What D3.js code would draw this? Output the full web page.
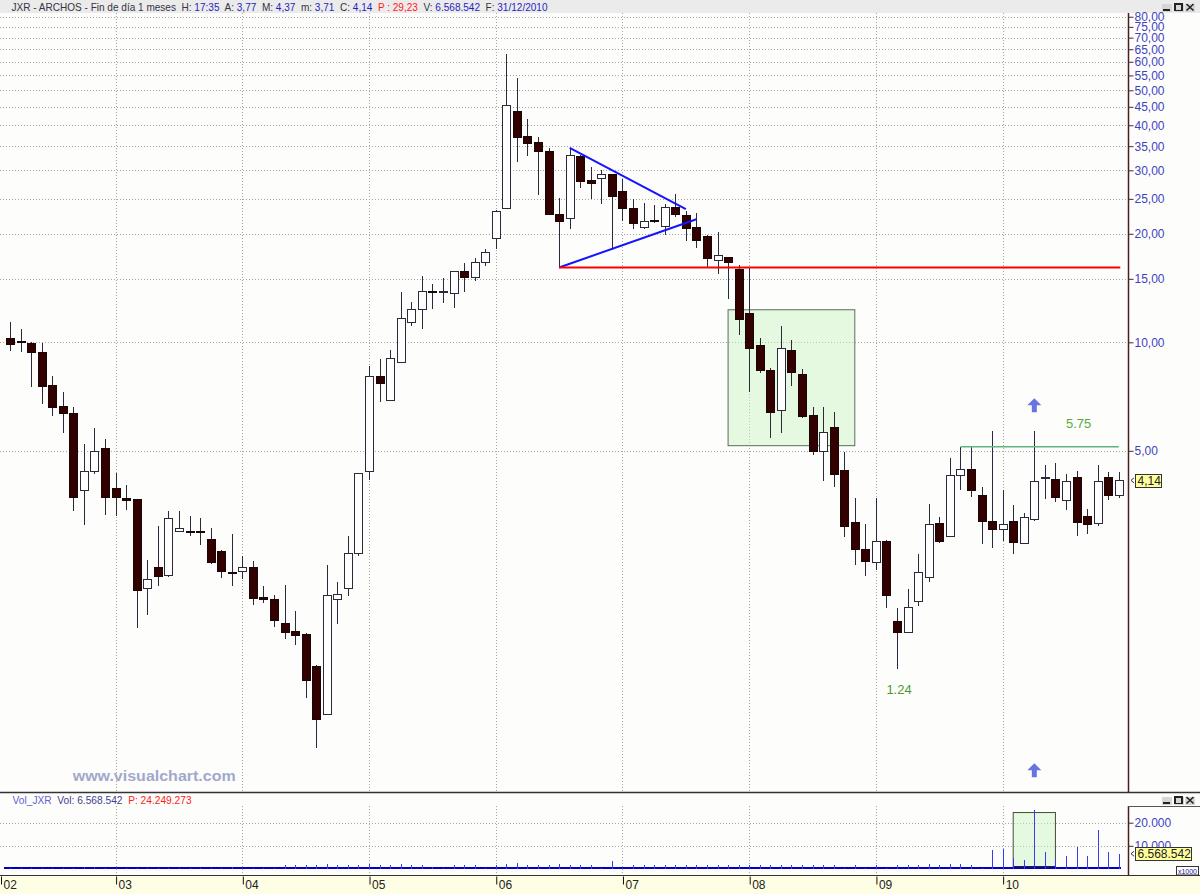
<!DOCTYPE html>
<html><head><meta charset="utf-8">
<script src="https://cdn.jsdelivr.net/npm/d3@7/dist/d3.min.js"></script>
<style>
html,body{margin:0;padding:0;background:#fff;}
svg{display:block;}
text{font-family:"Liberation Sans",Arial,sans-serif;}
</style></head><body>
<svg id="chart" width="1200" height="894"></svg>
<script>
// ---------- DATA ----------
const months = [
"2002-03","2002-04","2002-05","2002-06","2002-07","2002-08","2002-09","2002-10","2002-11","2002-12",
"2003-01","2003-02","2003-03","2003-04","2003-05","2003-06","2003-07","2003-08","2003-09","2003-10","2003-11","2003-12",
"2004-01","2004-02","2004-03","2004-04","2004-05","2004-06","2004-07","2004-08","2004-09","2004-10","2004-11","2004-12",
"2005-01","2005-02","2005-03","2005-04","2005-05","2005-06","2005-07","2005-08","2005-09","2005-10","2005-11","2005-12",
"2006-01","2006-02","2006-03","2006-04","2006-05","2006-06","2006-07","2006-08","2006-09","2006-10","2006-11","2006-12",
"2007-01","2007-02","2007-03","2007-04","2007-05","2007-06","2007-07","2007-08","2007-09","2007-10","2007-11","2007-12",
"2008-01","2008-02","2008-03","2008-04","2008-05","2008-06","2008-07","2008-08","2008-09","2008-10","2008-11","2008-12",
"2009-01","2009-02","2009-03","2009-04","2009-05","2009-06","2009-07","2009-08","2009-09","2009-10","2009-11","2009-12",
"2010-01","2010-02","2010-03","2010-04","2010-05","2010-06","2010-07","2010-08","2010-09","2010-10","2010-11","2010-12"];

const open = [10.26,10.06,9.94,9.38,7.61,6.64,6.35,3.88,4.37,5.06,
3.93,3.68,3.67,2.08,2.37,2.25,2.99,2.99,2.99,2.83,2.63,2.30,
2.32,2.37,1.96,1.93,1.66,1.58,1.55,1.26,0.93,1.93,2.07,2.59,
4.37,8.03,6.89,8.77,11.32,12.32,13.82,13.82,13.62,15.67,15.08,16.67,
19.43,23.57,43.80,37.19,35.77,33.84,22.69,22.03,32.78,28.12,28.46,29.13,
26.18,23.49,20.85,21.75,20.99,23.63,22.41,20.80,19.63,16.89,17.22,15.94,
12.03,9.77,8.34,6.47,9.52,8.15,6.25,4.97,5.79,4.40,3.16,2.67,
2.45,2.81,1.68,1.57,1.91,2.22,3.15,2.89,4.26,4.44,3.75,3.19,
3.03,3.18,2.77,3.23,4.22,4.15,3.63,4.22,3.29,3.15,4.22,3.77];
const high = [11.40,10.87,10.00,9.94,8.08,7.28,6.63,5.22,5.77,5.38,
4.33,4.02,3.68,2.49,3.09,3.40,3.40,3.30,3.25,3.05,2.65,2.93,
2.55,2.47,2.11,1.99,2.12,1.80,1.56,1.27,2.41,2.17,2.90,4.34,
8.59,8.97,9.49,13.82,12.95,15.27,14.47,15.04,15.70,16.62,17.17,18.10,
23.29,63.24,54.12,41.68,37.05,34.63,25.07,34.63,33.16,30.71,30.08,29.38,
28.46,24.99,24.31,24.01,24.20,25.80,23.14,22.80,19.85,20.20,17.29,16.42,
16.11,10.26,8.49,11.12,10.15,8.41,6.60,6.62,6.39,4.97,3.70,3.14,
3.69,2.83,1.83,2.07,2.59,3.56,3.28,4.77,5.13,5.16,3.97,5.67,
3.89,3.53,3.37,5.67,4.56,4.62,4.30,4.39,3.45,4.56,4.36,4.37];
const low = [9.46,9.38,7.53,6.74,6.26,5.59,3.41,3.11,4.31,3.31,
3.30,3.43,1.61,1.75,2.11,2.24,2.98,2.91,2.74,2.42,2.22,2.11,
2.20,1.87,1.89,1.62,1.50,1.45,1.03,0.75,0.93,1.65,1.98,2.56,
4.16,6.83,6.88,8.76,11.12,10.86,12.39,12.88,12.46,13.82,14.77,16.33,
18.16,23.50,31.72,32.86,25.59,22.58,16.13,20.66,26.82,24.93,24.20,18.06,
21.77,20.67,20.59,21.39,19.89,22.32,19.15,18.24,16.14,15.47,13.16,10.46,
7.29,8.23,5.41,5.61,7.56,6.15,4.88,4.13,3.97,2.89,2.41,2.25,
2.33,1.83,1.24,1.56,1.85,2.17,2.77,2.88,3.89,3.73,2.75,2.69,
2.81,2.58,2.76,3.19,3.67,3.61,3.43,2.91,2.93,3.10,3.65,3.71];
const close = [9.87,10.00,9.36,7.56,6.61,6.34,3.72,4.37,4.97,3.72,
3.72,3.65,2.05,2.20,2.24,3.25,3.05,2.97,2.97,2.45,2.32,2.29,
2.37,1.95,1.93,1.69,1.57,1.54,1.15,0.90,1.99,2.00,2.60,4.32,
8.03,7.68,9.03,11.62,12.35,13.86,13.80,13.84,15.67,15.13,16.67,17.73,
23.10,45.38,36.95,35.66,33.73,22.62,21.66,32.95,27.88,27.63,29.21,25.38,
23.44,21.34,21.57,21.70,23.69,22.60,20.63,19.15,17.07,17.40,16.63,11.58,
9.62,8.36,6.38,9.60,8.26,6.23,4.97,5.63,4.31,3.08,2.67,2.46,
2.81,1.98,1.57,1.84,2.30,3.13,2.80,4.27,4.44,3.89,3.19,3.02,
3.12,2.79,3.27,4.11,4.23,3.70,4.11,3.17,3.13,4.11,3.76,4.14];
// volume in thousands of shares
const volume = [200,200,200,200,200,200,200,900,900,200,
200,200,200,200,200,200,200,200,200,200,200,900,
200,200,200,200,1500,1500,1500,1500,2200,1500,1500,1700,
2200,1500,1500,2000,1500,1700,900,200,1500,1500,1500,200,
1700,2200,2600,1500,1500,1500,2200,1700,1500,1500,200,3300,
200,1500,1500,1500,1500,1500,1500,1500,1500,1700,1500,1500,
1500,1500,1500,1700,1500,1500,1500,1500,1500,200,1500,200,
1500,200,1500,1500,1500,2000,1500,2200,2000,1700,200,8200,
8500,4900,3800,25500,7100,4000,5600,9650,5600,16750,7500,6568.542];

const priceTicks = [80,75,70,65,60,55,50,45,40,35,30,25,20,15,10,5];
const volumeTicks = [20000,10000];
const yearMonths = ["2003-01","2004-01","2005-01","2006-01","2007-01","2008-01","2009-01","2010-01"];
const yearLabels = ["03","04","05","06","07","08","09","10"];

// drawn annotations (month, price)
const triangleUpper = [["2006-08",34.6],["2007-07",23.4]];
const triangleLower = [["2006-07",16.13],["2007-08",21.94]];
const supportLine = [["2006-07",16.13],["2010-12",16.13]];
const resistanceLine = [["2009-09",5.13],["2010-12",5.13]];
const priceBoxMonths = ["2007-11","2008-11"];
const priceBoxValues = [12.31,5.167];
const volBoxMonths = ["2010-02","2010-06"];
const volBoxValues = [24400,0];
const arrowMonths = ["2010-04","2010-04"];
const arrowValues = [6.99,0.68];

// ---------- SCALES ----------
const svg = d3.select("#chart");
const axisX = 1128.5, priceTop = 13, priceBottom = 792, volTop = 806, stripTop = 875.5;
const x = d3.scalePoint().domain(months).range([10, 1118.8]);
const y = d3.scaleLog().domain([10, 80]).range([342.3, 16.74]);
const vy = d3.scaleLinear().domain([0, 20000]).range([868.9, 822.7]);
const cx = m => Math.round(x(m));

// ---------- BACKGROUND ----------
svg.append("rect").attr("width",1200).attr("height",894).attr("fill","#fdfefc");
svg.append("rect").attr("width",1200).attr("height",13).attr("fill","#ebebeb");
svg.append("rect").attr("y",stripTop).attr("width",1200).attr("height",894-stripTop).attr("fill","#fefee4");

const defs = svg.append("defs");
defs.append("clipPath").attr("id","pclip").append("rect")
  .attr("x",0).attr("y",priceTop).attr("width",axisX).attr("height",priceBottom-priceTop);

// ---------- GRID ----------
const grid = svg.append("g").attr("stroke","#a6a6a6").attr("stroke-dasharray","1,2").attr("shape-rendering","crispEdges");
priceTicks.forEach(v => grid.append("line").attr("x1",0).attr("x2",axisX).attr("y1",Math.round(y(v))+0.5).attr("y2",Math.round(y(v))+0.5));
volumeTicks.forEach(v => grid.append("line").attr("x1",0).attr("x2",axisX).attr("y1",Math.round(vy(v))+0.5).attr("y2",Math.round(vy(v))+0.5));
yearMonths.forEach(m => {
  grid.append("line").attr("x1",cx(m)+0.5).attr("x2",cx(m)+0.5).attr("y1",priceTop).attr("y2",priceBottom);
  grid.append("line").attr("x1",cx(m)+0.5).attr("x2",cx(m)+0.5).attr("y1",volTop).attr("y2",stripTop);
});

// ---------- PRICE ANNOTATIONS (under candles) ----------
const pg = svg.append("g").attr("clip-path","url(#pclip)");
pg.append("rect")
  .attr("x",x(priceBoxMonths[0])).attr("y",y(priceBoxValues[0]))
  .attr("width",x(priceBoxMonths[1])-x(priceBoxMonths[0]))
  .attr("height",y(priceBoxValues[1])-y(priceBoxValues[0]))
  .attr("fill","#c8f5bf").attr("fill-opacity",0.45).attr("stroke","#5c6c5c").attr("stroke-width",1);

// ---------- CANDLES ----------
const idx = d3.range(months.length);
const cg = pg.append("g").attr("shape-rendering","crispEdges");
cg.selectAll("line.w").data(idx).join("line").attr("class","w")
  .attr("x1",i=>cx(months[i])+0.5).attr("x2",i=>cx(months[i])+0.5)
  .attr("y1",i=>y(high[i])).attr("y2",i=>y(low[i]))
  .attr("stroke","#2a2a3c").attr("stroke-width",1);
cg.selectAll("rect.b").data(idx).join("rect").attr("class","b")
  .attr("x",i=>cx(months[i])-3.5).attr("width",8)
  .attr("y",i=>y(Math.max(open[i],close[i])))
  .attr("height",i=>Math.max(1,Math.abs(y(open[i])-y(close[i]))))
  .attr("fill",i=>close[i]<open[i]?"#330000":"#ffffff")
  .attr("stroke",i=>close[i]<open[i]?"#1a0606":"#2a2a3a").attr("stroke-width",1);

// ---------- LINES ----------
const lineGen = d3.line().x(d=>x(d[0])).y(d=>y(d[1]));
pg.append("path").attr("d",lineGen(triangleUpper)).attr("stroke","#1414ff").attr("stroke-width",2).attr("fill","none");
pg.append("path").attr("d",lineGen(triangleLower)).attr("stroke","#1414ff").attr("stroke-width",2).attr("fill","none");
pg.append("path").attr("d",d3.line().x((d,i)=>x(d[0])+(i?1.5:0)).y(d=>y(d[1]))(supportLine)).attr("stroke","#ff0000").attr("stroke-width",2).attr("fill","none");
pg.append("path").attr("d",lineGen(resistanceLine)).attr("stroke","#5db67c").attr("stroke-width",1.6).attr("fill","none");

// arrows
arrowMonths.forEach((m,k)=>{
  const ax = x(m), ay = y(arrowValues[k]);
  pg.append("path").attr("d",`M${ax},${ay} L${ax+7},${ay+7} L${ax+2.5},${ay+7} L${ax+2.5},${ay+14} L${ax-2.5},${ay+14} L${ax-2.5},${ay+7} L${ax-7},${ay+7} Z`)
    .attr("fill","#6874e0");
});
pg.append("text").attr("x",x("2010-07")).attr("y",y(5.96)).attr("dy","0.35em")
  .attr("font-size",13).attr("fill","#5aa83a").text("5.75");
pg.append("text").attr("x",x("2009-03")+2).attr("y",y(1.092)).attr("dy","0.35em").attr("text-anchor","middle")
  .attr("font-size",13).attr("fill","#4a9a30").text("1.24");

// watermark
svg.append("text").attr("x",72.7).attr("y",781).attr("font-family","DejaVu Sans").attr("font-weight","bold")
  .attr("font-size",14).attr("fill","#a2a8cd").attr("textLength",163).attr("lengthAdjust","spacingAndGlyphs")
  .text("www.visualchart.com");

// ---------- VOLUME ----------
const vg = svg.append("g");
vg.append("rect")
  .attr("x",x(volBoxMonths[0])).attr("y",vy(volBoxValues[0]))
  .attr("width",x(volBoxMonths[1])-x(volBoxMonths[0]))
  .attr("height",vy(volBoxValues[1])-vy(volBoxValues[0])-1.5)
  .attr("fill","#c8f5bf").attr("fill-opacity",0.45).attr("stroke","#4a4a3a").attr("stroke-width",1);
vg.append("line").attr("x1",x(volBoxMonths[0])).attr("x2",x(volBoxMonths[1])).attr("y1",vy(0)-2).attr("y2",vy(0)-2)
  .attr("stroke","#222").attr("stroke-width",2);
vg.append("line").attr("x1",4).attr("x2",1121).attr("y1",868).attr("y2",868).attr("stroke","#0000c8").attr("stroke-width",2);
vg.selectAll("line.v").data(idx).join("line").attr("class","v")
  .attr("x1",i=>cx(months[i])+0.5).attr("x2",i=>cx(months[i])+0.5)
  .attr("y1",vy(0)).attr("y2",i=>vy(volume[i]))
  .attr("stroke","#3a3af5").attr("stroke-width",1).attr("shape-rendering","crispEdges");

// ---------- PANEL FRAMES ----------
svg.append("line").attr("x1",axisX).attr("x2",axisX).attr("y1",priceTop).attr("y2",priceBottom).attr("stroke","#4e1c1c").attr("stroke-width",1.5);
svg.append("line").attr("x1",axisX).attr("x2",axisX).attr("y1",volTop).attr("y2",stripTop).attr("stroke","#4e1c1c").attr("stroke-width",1.5);
svg.append("line").attr("x1",0).attr("x2",1200).attr("y1",792.5).attr("y2",792.5).attr("stroke","#333").attr("stroke-width",1.5);
svg.append("line").attr("x1",axisX).attr("x2",1200).attr("y1",806.5).attr("y2",806.5).attr("stroke","#555").attr("stroke-width",1);
svg.append("line").attr("x1",0).attr("x2",1200).attr("y1",stripTop).attr("y2",stripTop).attr("stroke","#333").attr("stroke-width",1);

// ---------- AXES ----------
const fmtPrice = d => d3.format(".2f")(d).replace(".",",");
const yAxis = d3.axisRight(y).tickValues(priceTicks).tickFormat(fmtPrice).tickSize(5).tickPadding(1);
const ya = svg.append("g").attr("transform",`translate(${axisX},0)`).call(yAxis);
ya.select(".domain").remove();
ya.selectAll("line").attr("stroke","#333");
ya.selectAll("text").attr("font-size",12).attr("fill","#3f3fbf").attr("font-family","Liberation Sans, Arial, sans-serif");

const fmtVol = d => d3.format(",")(d).replace(/,/g,".");
const vAxis = d3.axisRight(vy).tickValues(volumeTicks).tickFormat(fmtVol).tickSize(5).tickPadding(1);
const va = svg.append("g").attr("transform",`translate(${axisX},0)`).call(vAxis);
va.select(".domain").remove();
va.selectAll("line").attr("stroke","#333");
va.selectAll("text").attr("font-size",12).attr("fill","#3f3fbf").attr("font-family","Liberation Sans, Arial, sans-serif");

// x axis on the date strip
const xAxis = d3.axisBottom(x).tickValues(yearMonths).tickFormat((d,i)=>yearLabels[i]).tickSize(8).tickPadding(0);
const xa = svg.append("g").attr("transform",`translate(0.5,${stripTop+1})`).call(xAxis);
xa.select(".domain").remove();
xa.selectAll("line").attr("stroke","#111");
xa.selectAll("text").attr("text-anchor","start").attr("dx",2).attr("y",4).attr("dy","0.71em")
  .attr("font-size",12).attr("fill","#222").attr("font-family","Liberation Sans, Arial, sans-serif");
svg.append("line").attr("x1",1.5).attr("x2",1.5).attr("y1",stripTop+1).attr("y2",stripTop+9).attr("stroke","#111");
svg.append("text").attr("x",3.5).attr("y",stripTop+5).attr("dy","0.71em").attr("font-size",12).attr("fill","#222").text("02");

// ---------- LAST VALUE LABELS ----------
function valueBox(yc, x0, w, label){
  svg.append("path").attr("d",`M${x0-1},${yc-2.5} L${x0-4},${yc} L${x0-1},${yc+2.5}`).attr("stroke","#333").attr("fill","none");
  svg.append("rect").attr("x",x0+0.5).attr("y",Math.round(yc-6.5)+0.5).attr("width",w).attr("height",13)
    .attr("fill","#ffff9c").attr("stroke","#333");
  svg.append("text").attr("x",x0+2.5).attr("y",yc).attr("dy","0.36em").attr("font-size",12).attr("fill","#222").text(label);
}
valueBox(y(close[close.length-1]),1135,26,fmtPrice(close[close.length-1]));
valueBox(vy(volume[volume.length-1]),1135,56,d3.format(",")(Math.round(volume[volume.length-1]*1000)).replace(/,/g,"."));
svg.append("rect").attr("x",1176.5).attr("y",866.5).attr("width",22).attr("height",8.5).attr("fill","#fff").attr("stroke","#333");
svg.append("text").attr("x",1178).attr("y",873.5).attr("font-size",8).attr("fill","#1a1a9a")
  .attr("textLength",19).attr("lengthAdjust","spacingAndGlyphs").text("x1000");

// ---------- HEADERS ----------
const dark="#333344", blue="#1f1fbf", red="#ff1a1a";
const headerParts = [["JXR - ARCHOS - Fin de día 1 meses  H: ",dark],["17:35",blue],["  A: ",dark],["3,77",blue],
 ["  M: ",dark],["4,37",blue],["  m: ",dark],["3,71",blue],["  C: ",dark],["4,14",blue],["  P : 29,23",red],
 ["  V: ",dark],["6.568.542",blue],["  F: ",dark],["31/12/2010",blue]];
const ht = svg.append("text").attr("x",11.5).attr("y",10.5).attr("font-size",11)
  .attr("textLength",536).attr("lengthAdjust","spacingAndGlyphs").attr("xml:space","preserve").style("white-space","pre");
headerParts.forEach(p=>ht.append("tspan").attr("fill",p[1]).text(p[0]));
const vParts = [["Vol_JXR  ","#6060d0"],["Vol: 6.568.542  ","#404090"],["P: 24.249.273","#ff2020"]];
const vt = svg.append("text").attr("x",12.6).attr("y",804).attr("font-size",11)
  .attr("textLength",179).attr("lengthAdjust","spacingAndGlyphs").style("white-space","pre");
vParts.forEach(p=>vt.append("tspan").attr("fill",p[1]).text(p[0]));

// window buttons
function buttons(y0){
  const g = svg.append("g").attr("shape-rendering","crispEdges");
  [1162,1173.5,1185].forEach(bx=>g.append("rect").attr("x",bx).attr("y",y0).attr("width",10).attr("height",8).attr("fill","#d6d6d6"));
  g.append("rect").attr("x",1163).attr("y",y0+5).attr("width",7).attr("height",2).attr("fill","#222");
  g.append("rect").attr("x",1175).attr("y",y0+0.5).attr("width",7).attr("height",6.5).attr("fill","none").attr("stroke","#222").attr("stroke-width",1.5);
  g.append("path").attr("d",`M${1186.5},${y0+0.5} L${1193.5},${y0+7} M${1193.5},${y0+0.5} L${1186.5},${y0+7}`).attr("stroke","#222").attr("stroke-width",1.6).attr("shape-rendering","auto");
}
buttons(3.5);
buttons(796.5);
</script>
</body></html>
